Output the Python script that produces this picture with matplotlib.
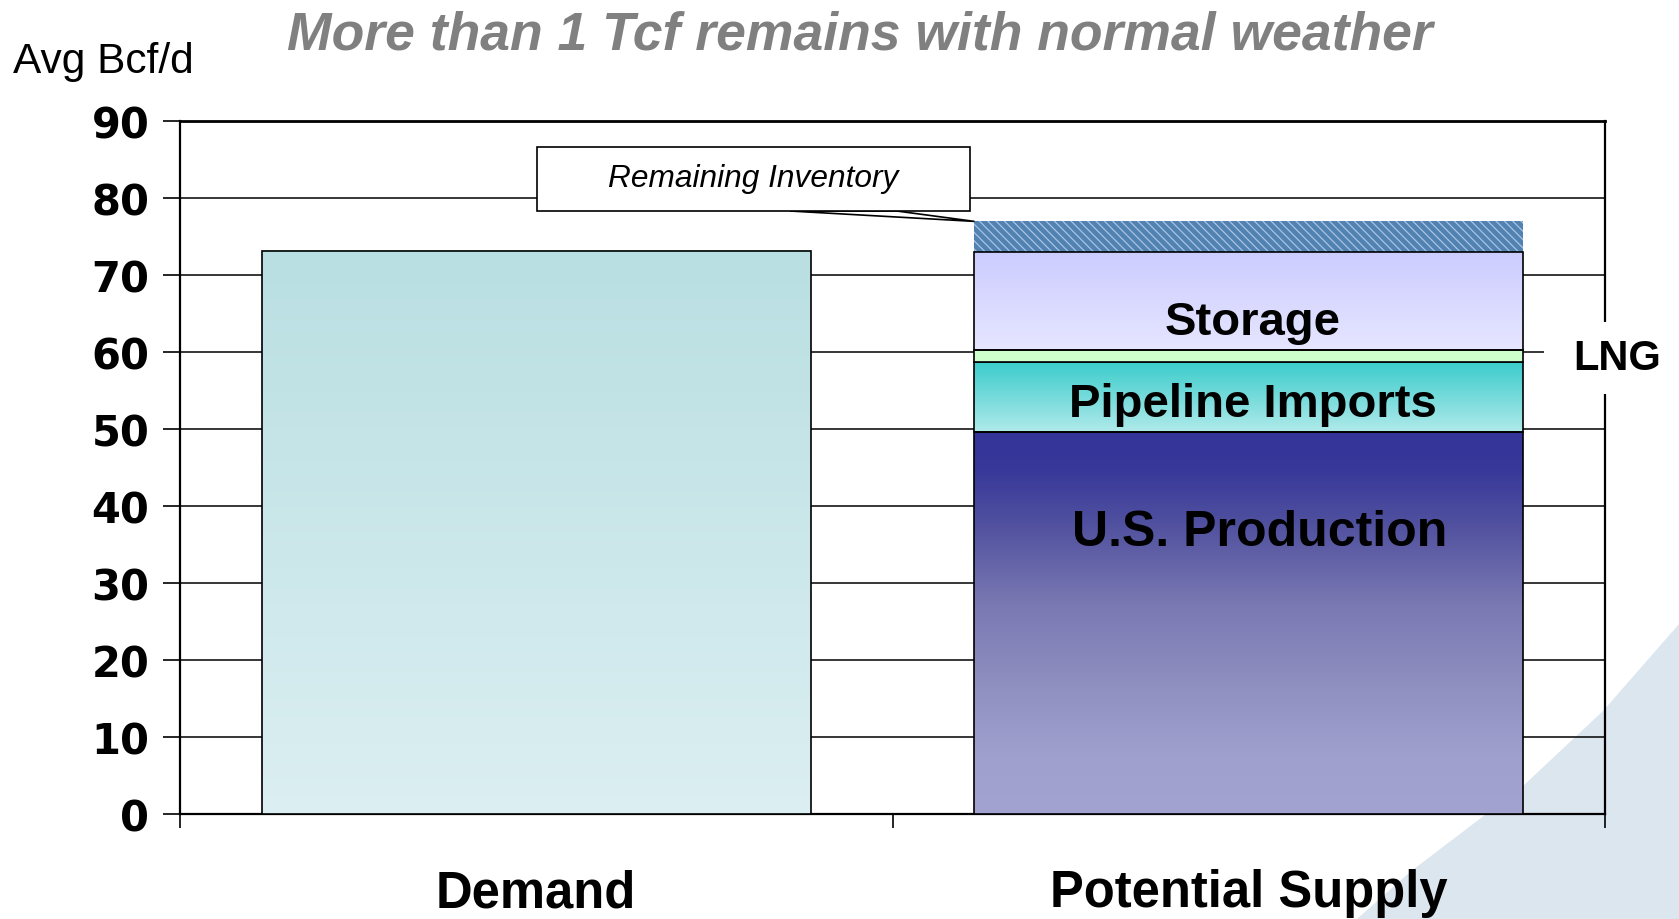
import numpy as np
import matplotlib.pyplot as plt
from matplotlib.patches import Rectangle, Polygon
from matplotlib.colors import LinearSegmentedColormap

# values (Avg Bcf/d)
categories = ['Demand', 'Potential Supply']
demand = 73.2
supply_labels = ['U.S. Production', 'Pipeline Imports', 'LNG', 'Storage', 'Remaining Inventory']
supply_values = [49.7, 9.0, 1.65, 12.65, 4.0]
y_ticks = list(range(0, 100, 10))

plt.rcParams['font.family'] = ['Liberation Sans', 'DejaVu Sans']
plt.rcParams['hatch.linewidth'] = 0.9

W, H = 1679, 920
fig = plt.figure(figsize=(W / 100, H / 100), dpi=100)

# pale curved shape in the lower right corner (slide background)
bg = [(1679, 625), (1603, 712), (1523, 787), (1410, 873), (1357, 920), (1679, 920)]
fig.patches.append(Polygon([(x / W, 1 - y / H) for x, y in bg], closed=True,
                           transform=fig.transFigure, fc='#dce6ef', ec='none', zorder=-1))

ax = fig.add_axes([180 / W, 1 - 815.3 / H, 1425 / W, 693 / H])
ax.set_facecolor('none')

width = 0.77
dem_bars = ax.bar([0], [demand], width, fill=False, edgecolor='black', linewidth=1.2, zorder=4)
bottoms = np.concatenate([[0], np.cumsum(supply_values)[:-1]])
sup_bars = ax.bar([1] * len(supply_values), supply_values, width, bottom=bottoms,
                  fill=False, edgecolor='black', linewidth=1.2, zorder=4)

# remaining inventory: hatched, no outline
inv = sup_bars[-1]
inv.set_fill(True)
inv.set_facecolor('#5282b2')
inv.set_edgecolor('#a9c3e3')
inv.set_hatch('\\' * 4)
inv.set_linewidth(0)
inv.set_zorder(3)
sup_bars[2].set_fill(True)
sup_bars[2].set_facecolor('#ccffcc')


def gradient(rect, stops):
    x0 = rect.get_x()
    y0 = rect.get_y()
    cmap = LinearSegmentedColormap.from_list('g', stops)
    arr = np.linspace(0, 1, 256).reshape(-1, 1)
    ax.imshow(arr, cmap=cmap, origin='lower', aspect='auto', interpolation='bilinear',
              extent=[x0, x0 + rect.get_width(), y0, y0 + rect.get_height()], zorder=3)


# stops run bottom -> top
gradient(dem_bars[0], [(0, '#dcefF2'), (1, '#b9dfe2')])
gradient(sup_bars[0], [(0, '#a3a3d2'), (0.15, '#a0a0cf'), (0.3, '#9393c3'),
                       (0.55, '#7a78b2'), (0.75, '#5252a0'), (0.9, '#38389a'), (1, '#333399')])
gradient(sup_bars[1], [(0, '#b0eaea'), (1, '#3ccccc')])
gradient(sup_bars[3], [(0, '#e6e6ff'), (1, '#ccccff')])

ax.set_xlim(-0.5, 1.5)
ax.set_ylim(0, 90)

ax.set_yticks(y_ticks)
ax.yaxis.grid(True, color='black', linewidth=1.1)
ax.set_axisbelow(True)
ax.tick_params(axis='y', direction='out', length=12, width=1.2, pad=10, labelsize=30)
for lab in ax.get_yticklabels():
    lab.set_fontfamily('DejaVu Sans')
    lab.set_fontweight('bold')

ax.set_xticks([0, 1], categories, fontsize=36.5, fontweight='bold')
ax.set_xticks([-0.5, 0.5, 1.5], minor=True)
ax.tick_params(axis='x', which='major', length=0, pad=39)
ax.tick_params(axis='x', which='minor', direction='out', length=10, width=1.2)

for side in ['left', 'right', 'bottom']:
    ax.spines[side].set_linewidth(1.6)
ax.spines['top'].set_linewidth(2.0)

# segment labels
seg_x = 1.0
ax.text(seg_x + 0.006, 62.4, 'Storage', ha='center', va='baseline', fontsize=34, fontweight='bold', zorder=6)
ax.text(seg_x + 0.006, 51.7, 'Pipeline Imports', ha='center', va='baseline', fontsize=34, fontweight='bold', zorder=6)
ax.text(seg_x + 0.016, 35.0, 'U.S. Production', ha='center', va='baseline', fontsize=36, fontweight='bold', zorder=6)

# LNG label outside the bar, masking the right frame
ax.add_patch(Rectangle((1.414, 54.6), 0.3, 9.3, fc='white', ec='none', clip_on=False, zorder=5))
ax.text(1.517, 57.8, 'LNG', ha='center', va='baseline', fontsize=30, fontweight='bold',
        clip_on=False, zorder=6)

# callout for remaining inventory
tip_x = inv.get_x()
tip_y = inv.get_y() + inv.get_height()
ax.add_patch(Polygon([(0.356, 78.35), (0.506, 78.35), (tip_x, tip_y)], closed=True,
                     fc='white', ec='black', lw=1.2, zorder=5))
ax.add_patch(Rectangle((0.001, 78.35), 0.608, 8.35, fc='white', ec='black', lw=1.2, zorder=6))
ax.text(0.305, 81.6, 'Remaining Inventory', ha='center', va='baseline', fontsize=22.8,
        style='italic', zorder=7)

fig.text(13 / W, 1 - 73 / H, 'Avg Bcf/d', ha='left', va='baseline', fontsize=30.5)
fig.text(860 / W, 1 - 50 / H, 'More than 1 Tcf remains with normal weather', ha='center',
         va='baseline', fontsize=38.5, fontweight='bold', style='italic', color='#808080')

fig.savefig('out.png', dpi=100)
